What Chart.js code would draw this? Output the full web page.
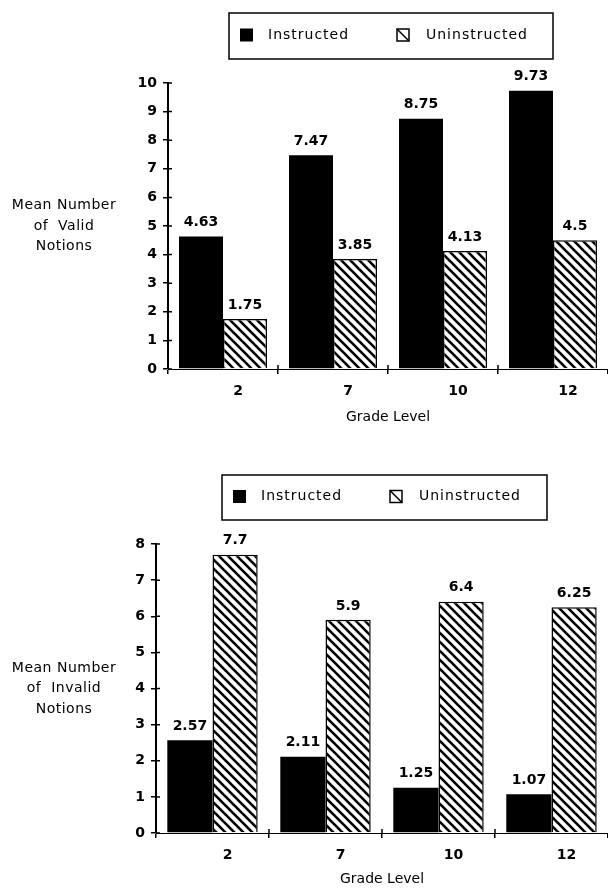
<!DOCTYPE html>
<html>
<head>
<meta charset="utf-8">
<script src="https://cdn.jsdelivr.net/npm/chart.js@4.4.1/dist/chart.umd.min.js"></script>
<style>
  body { margin: 0; background: #fff; }
  canvas { display: block; }
</style>
</head>
<body>
<canvas id="validChart" width="608" height="436"></canvas>
<canvas id="invalidChart" width="608" height="452"></canvas>
<script>
// grade levels on the x axis
var grades = ['2', '7', '10', '12'];
var seriesNames = ['Instructed', 'Uninstructed'];

// upper chart: valid notions
var validInstructed = [4.63, 7.47, 8.75, 9.73];
var validUninstructed = [1.75, 3.85, 4.13, 4.5];
var validTitle = ['Mean Number', 'of  Valid', 'Notions'];
var validMax = 10;

// lower chart: invalid notions
var invalidInstructed = [2.57, 2.11, 1.25, 1.07];
var invalidUninstructed = [7.7, 5.9, 6.4, 6.25];
var invalidTitle = ['Mean Number', 'of  Invalid', 'Notions'];
var invalidMax = 8;

var FONT = '"DejaVu Sans", "Liberation Sans", sans-serif';
Chart.defaults.font.family = FONT;
Chart.defaults.color = '#000';

function makeHatch(ctx){
    var s = 9;
    var tile = document.createElement('canvas');
    tile.width = s; tile.height = s;
    var g = tile.getContext('2d');
    g.fillStyle = '#fff';
    g.fillRect(0, 0, s, s);
    g.strokeStyle = '#000';
    g.lineWidth = 2.6;
    [-s, 0, s].forEach(function(off){
        g.beginPath();
        g.moveTo(off - 1, -1);
        g.lineTo(off + s + 1, s + 1);
        g.stroke();
    });
    return ctx.createPattern(tile, 'repeat');
}

// value labels, boxed legend, horizontal y title, cross ticks
var decor = {
    id: 'decor',
    afterDatasetsDraw: function(chart){
        var ctx = chart.ctx;
        ctx.save();
        ctx.font = 'bold 14px ' + FONT;
        ctx.fillStyle = '#000';
        ctx.textAlign = 'center';
        ctx.textBaseline = 'middle';
        chart.data.datasets.forEach(function(ds, i){
            chart.getDatasetMeta(i).data.forEach(function(bar, j){
                ctx.fillText(String(ds.data[j]), bar.x, bar.y - 14);
            });
        });
        ctx.restore();
    },
    afterDraw: function(chart, args, opts){
        var ctx = chart.ctx;
        var x = chart.scales.x, y = chart.scales.y;
        ctx.save();
        ctx.strokeStyle = '#000';
        ctx.fillStyle = '#000';

        // small marks on the other side of the axes
        ctx.lineWidth = 1.5;
        ctx.beginPath();
        y.ticks.forEach(function(t){
            var py = y.getPixelForValue(t.value);
            ctx.moveTo(y.right, py);
            ctx.lineTo(y.right + 4, py);
        });
        for (var i = 1; i < x.ticks.length; i++){
            var px = (x.getPixelForValue(i - 1) + x.getPixelForValue(i)) / 2;
            ctx.moveTo(px, y.bottom - 4);
            ctx.lineTo(px, y.bottom);
        }
        ctx.stroke();

        // legend box
        var b = opts.box;
        ctx.lineWidth = 1.5;
        ctx.strokeRect(b[0], b[1], b[2], b[3]);
        var cy = b[1] + b[3] / 2 - 1;
        ctx.fillRect(b[0] + 11, cy - 6.5, 13, 13);
        ctx.lineWidth = 1.5;
        ctx.strokeRect(b[0] + 168, cy - 6, 12, 12);
        ctx.beginPath();
        ctx.moveTo(b[0] + 168, cy - 6);
        ctx.lineTo(b[0] + 180, cy + 6);
        ctx.stroke();
        ctx.font = '14px ' + FONT;
        ctx.letterSpacing = '1px';
        ctx.textAlign = 'left';
        ctx.textBaseline = 'middle';
        ctx.fillText(chart.data.datasets[0].label, b[0] + 39, cy);
        ctx.fillText(chart.data.datasets[1].label, b[0] + 197, cy);

        // y title, written flat
        ctx.letterSpacing = '0.5px';
        ctx.textAlign = 'center';
        var mid = y.getPixelForValue(y.max / 2);
        opts.title.forEach(function(line, k){
            ctx.fillText(line, opts.titleX, mid + (k - 1) * 20.5);
        });
        ctx.restore();
    }
};

function buildGradeChart(canvasId, instructed, uninstructed, yMax, yTitle, frame){
    var el = document.getElementById(canvasId);
    var ctx = el.getContext('2d');
    return new Chart(el, {
        type: 'bar',
        data: {
            labels: grades,
            datasets: [{
                label: seriesNames[0],
                data: instructed,
                backgroundColor: '#000',
                borderColor: '#000',
                borderWidth: 0,
                categoryPercentage: 0.8,
                barPercentage: 1
            }, {
                label: seriesNames[1],
                data: uninstructed,
                backgroundColor: makeHatch(ctx),
                borderColor: '#000',
                borderWidth: 1.5,
                categoryPercentage: 0.8,
                barPercentage: 1
            }]
        },
        options: {
            responsive: false,
            animation: false,
            layout: { padding: { left: 0, right: 0, top: frame.top, bottom: frame.bottom } },
            plugins: {
                legend: { display: false },
                tooltip: { enabled: false },
                decor: { box: frame.legend, title: yTitle, titleX: 64 }
            },
            scales: {
                x: {
                    grid: { offset: true, drawOnChartArea: false, color: '#000', lineWidth: 1.5, tickLength: 5 },
                    border: { color: '#000', width: 1 },
                    ticks: { color: '#000', font: { size: 14, weight: 'bold' }, padding: 9, labelOffset: 15, maxRotation: 0 },
                    title: { display: true, text: 'Grade Level', color: '#000', font: { size: 14 }, padding: 0 },
                    afterFit: function(s){ s.height = frame.xHeight; }
                },
                y: {
                    min: 0,
                    max: yMax,
                    ticks: { stepSize: 1, color: '#000', font: { size: 14, weight: 'bold' }, padding: 6 },
                    grid: { drawOnChartArea: false, color: '#000', lineWidth: 1.5, tickLength: 5 },
                    border: { color: '#000', width: 2 },
                    afterFit: function(s){ s.width = frame.left; }
                }
            }
        },
        plugins: [decor]
    });
}

buildGradeChart('validChart', validInstructed, validUninstructed, validMax, validTitle,
    { left: 168, top: 83, bottom: 10, xHeight: 57, legend: [229, 13, 324, 46] });
buildGradeChart('invalidChart', invalidInstructed, invalidUninstructed, invalidMax, invalidTitle,
    { left: 156, top: 108, bottom: 0, xHeight: 55, legend: [222, 39, 325, 45] });
</script>
</body>
</html>
